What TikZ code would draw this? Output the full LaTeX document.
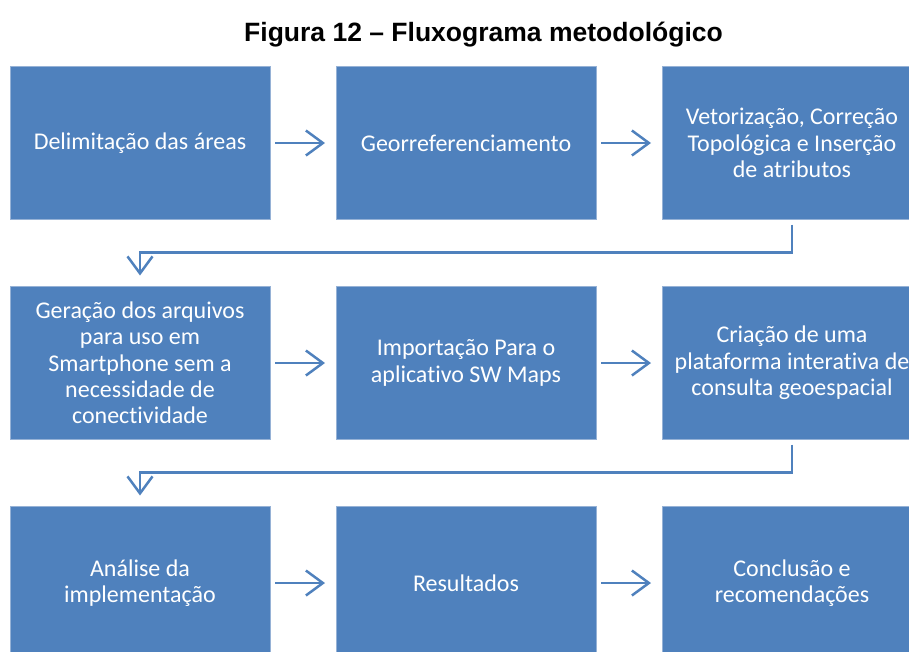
\documentclass[tikz,border=0pt]{standalone}
\usepackage{fontspec}
\setmainfont[RawFeature={-liga;-calt;-dlig}]{Carlito}
\newfontfamily\titlefont{Liberation Sans}
\usetikzlibrary{positioning}
\usetikzlibrary{arrows.meta}
\definecolor{boxblue}{RGB}{79,129,189}
\definecolor{boxedge}{RGB}{150,178,214}

\begin{document}
\begin{tikzpicture}[x=1pt,y=1pt,
  step box/.style={draw=boxedge,line width=0.6pt,fill=boxblue,text=white,
   minimum width=260pt,minimum height=153pt,inner sep=0pt,outer sep=0pt,
   align=center,font=\fontsize{24}{26.3}\selectfont},
  flow/.style={draw=boxblue,line width=2.5pt,
   -{Straight Barb[length=17pt,width=25pt]}},
  node distance=67pt and 66pt]

\useasboundingbox (0,0) rectangle (909,-651);
\clip (0,0) rectangle (909,-651);

\node[font=\titlefont\bfseries\fontsize{26.5}{30}\selectfont,anchor=base]
 (titulo) at (483.5,-41.7){Figura 12 – Fluxograma metodológico};

\node[step box] (delim) at (140,-143){Delimitação das áreas};
\node[right = of delim, step box] (georef){Georreferenciamento};
\node[right = of georef, step box] (vetor){Vetorização, Correção\\
 Topológica e Inserção\\ de atributos};

\node[below = of delim, step box] (geracao){Geração dos arquivos\\ para uso em\\
 Smartphone sem a\\ necessidade de\\ conectividade};
\node[right = of geracao, step box] (import){Importação Para o\\ aplicativo SW Maps};
\node[right = of import, step box] (plataf){Criação de uma\\
 plataforma interativa de\\ consulta geoespacial};

\node[below = of geracao, step box] (analise){Análise da\\ implementação};
\node[right = of analise, step box] (result){Resultados};
\node[right = of result, step box] (concl){Conclusão e\\ recomendações};

\draw[flow] ([xshift=5pt]delim.east) -- ([xshift=-11pt]georef.west);
\draw[flow] ([xshift=5pt]georef.east) -- ([xshift=-11pt]vetor.west);
\draw[flow] ([yshift=-5pt]vetor.south) -- ++(0,-28) -| ([yshift=11pt]geracao.north);

\draw[flow] ([xshift=5pt]geracao.east) -- ([xshift=-11pt]import.west);
\draw[flow] ([xshift=5pt]import.east) -- ([xshift=-11pt]plataf.west);
\draw[flow] ([yshift=-5pt]plataf.south) -- ++(0,-28) -| ([yshift=11pt]analise.north);

\draw[flow] ([xshift=5pt]analise.east) -- ([xshift=-11pt]result.west);
\draw[flow] ([xshift=5pt]result.east) -- ([xshift=-11pt]concl.west);
\end{tikzpicture}
\end{document}
